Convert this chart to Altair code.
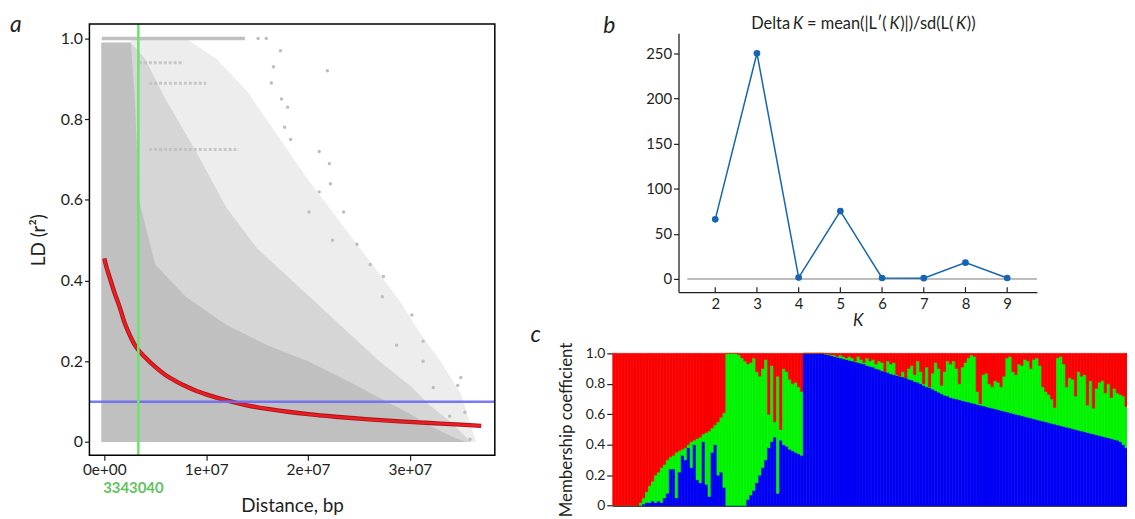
import altair as alt
import pandas as pd

# ---------------- panel a: LD decay ----------------
a_x_ticks = [0, 10_000_000, 20_000_000, 30_000_000]
a_x_tick_labels = ["0e+00", "1e+07", "2e+07", "3e+07"]
a_y_ticks = [0, 0.2, 0.4, 0.6, 0.8, 1.0]
a_y_tick_labels = ["0", "0.2", "0.4", "0.6", "0.8", "1.0"]
a_x_domain = [-1_462_000, 38_340_000]
a_y_domain = [-0.033, 1.036]
ld_threshold = 0.1
decay_distance = 3343040

curve_x = [0, 250e3, 500e3, 1e6, 1.5e6, 2e6, 2.5e6, 3e6, 3.34e6, 4e6, 5e6, 6e6, 7e6, 8e6,
           9e6, 10e6, 12e6, 14e6, 16e6, 18e6, 20e6, 23e6, 26e6, 29e6, 32e6, 35e6, 37e6]
curve_r2 = [0.455, 0.43, 0.41, 0.37, 0.335, 0.295, 0.265, 0.24, 0.228, 0.21, 0.186, 0.166,
            0.151, 0.138, 0.127, 0.118, 0.103, 0.091, 0.082, 0.075, 0.069, 0.062, 0.056,
            0.051, 0.047, 0.043, 0.040]

cloud_solid_x = [-0.3e6, 2.6e6, 3.0e6, 3.4e6, 5e6, 8e6, 12e6, 16e6, 20e6, 24e6, 27e6, 30e6,
                 32e6, 34e6, 35.5e6]
cloud_solid_r2 = [0.99, 0.99, 0.85, 0.60, 0.44, 0.36, 0.29, 0.24, 0.20, 0.15, 0.11, 0.07,
                  0.04, 0.015, 0.0]
cloud_mid_x = [2.6e6, 4e6, 6e6, 9e6, 12e6, 15e6, 18e6, 21e6, 24e6, 27e6, 30e6, 32e6, 34e6, 36e6]
cloud_mid_r2 = [0.99, 0.95, 0.85, 0.72, 0.58, 0.48, 0.41, 0.34, 0.27, 0.20, 0.14, 0.09, 0.05, 0.0]
cloud_outer_x = [2.6e6, 8e6, 11e6, 14e6, 17e6, 20e6, 23e6, 26e6, 29e6, 31e6, 33e6, 35e6, 36.5e6]
cloud_outer_r2 = [1.0, 1.0, 0.95, 0.87, 0.76, 0.65, 0.55, 0.45, 0.35, 0.27, 0.20, 0.12, 0.0]

streak_r2 = [0.94, 0.889, 0.725]
streak_from = [3.4e6, 4.4e6, 4.4e6]
streak_to = [7.8e6, 10e6, 13.2e6]
top_row_r2 = 1.0
top_row_from, top_row_to = -0.25e6, 13.8e6

outlier_x = [15.1e6, 15.9e6, 16.6e6, 16.4e6, 17.3e6, 17.4e6, 18.0e6, 17.7e6, 18.3e6, 20.1e6,
             21.1e6, 22.1e6, 22.2e6, 21.1e6, 23.5e6, 24.8e6, 22.4e6, 21.9e6, 30.2e6, 27.4e6,
             26.1e6, 27.3e6, 35.0e6, 34.7e6, 35.4e6, 33.9e6, 35.9e6, 32.3e6, 31.3e6, 28.7e6,
             31.3e6]
outlier_r2 = [1.0, 1.0, 0.93, 0.89, 0.97, 0.85, 0.83, 0.78, 0.75, 0.57,
              0.72, 0.69, 0.64, 0.62, 0.57, 0.49, 0.50, 0.92, 0.315, 0.41,
              0.44, 0.36, 0.16, 0.14, 0.074, 0.064, 0.007, 0.135, 0.20, 0.24,
              0.25]

# ---------------- panel b: Delta K ----------------
k_values = [2, 3, 4, 5, 6, 7, 8, 9]
delta_k = [66, 250, 1.5, 75, 1, 0.8, 18, 1]
b_y_ticks = [0, 50, 100, 150, 200, 250]
b_x_domain = [1.119, 9.714]
b_y_domain = [-14.6, 272]
b_zero_from = 1.33
b_title_parts = ["Delta", "K", "= mean(|L\u2032(", "K", ")|)/sd(L(", "K", "))"]
b_title_italic = [False, True, False, True, False, True, False]

# ---------------- panel c: STRUCTURE membership ----------------
c_y_ticks = [0, 0.2, 0.4, 0.6, 0.8, 1.0]
c_y_tick_labels = ["0", "0.2", "0.4", "0.6", "0.8", "1.0"]
q_red = ([1, 1, 1, 1, 1, 1, 1, 1, 1,
          .98, .95, .91, .87, .84, .80, .78, .75, .73, .70, .68, .67, .65, .64, .63, .62, .60,
          .58, .57, .56, .55, .53, .52, .51, .49, .47, .45, .42, .39]
         + [0, 0, 0, 0, .01, .03, .05, .07, .06, .03, .12, .15, .10, .04, .40, .08, .45, .15,
            .50, .10, .12, .17, .20, .19, .22, .25]
         + [0, 0, 0, 0, 0, 0, 0, 0,
            .005, .01, .01, .02, .01, .02, .03, .02, .03, .05,
            .02, .04, .06, .03, .05, .04, .07, .05, .06, .16,
            .05, .07, .06, .14, .17, .12, .18, .10, .08, .14,
            .05, .12, .20, .09, .22, .13, .06, .10, .21, .12,
            .05, .07,
            .05, .10, .20, .09, .06, .03, .01, .02, .25, .33,
            .14, .13, .20, .22, .18, .19, .22, .15, .03, .02,
            .12, .14, .07, .08, .04, .05, .10, .04, .03, .08,
            .22, .25, .27, .30, .355, .03, .02, .07, .22, .16,
            .17, .28, .12, .15, .14, .34, .18, .36, .23, .19,
            .18, .26, .20, .29, .23, .26, .27, .28, .35, .18,
            .20])
q_blue = ([0] * 9
          + [0, .01, .02, .02, .03, .02, .03, .02, .05, .08, .24, .24, .05, .22, .33, .30, .38,
             .25, .40, .17, .15, .42, .14, .06, .35, .40, .20, .22, .12]
          + [0, 0, 0, 0, 0, 0, 0, .04, .07, .10, .15, .20, .25, .30, .38, .42, .45, .08, .43,
             .40, .39, .37, .36, .35, .34, .33]
          + [1, 1, 1, 1, 1, 1, 1, .995, .99, .985, .98, .975, .97, .965, .96, .955, .95, .945,
             .94, .935, .93, .92, .915, .91, .90, .895, .885, .88, .875, .865, .86, .855, .85,
             .845, .84, .83, .825, .815, .81, .80, .79, .78, .775, .765, .755, .745, .735, .725,
             .72, .71,
             .705, .70, .695, .69, .685, .68, .675, .67, .665, .66, .655, .65, .645, .64, .635,
             .63, .625, .62, .615, .61, .605, .60, .595, .59, .585, .58, .575, .57, .565, .56,
             .555, .55, .545, .54, .535, .53, .525, .52, .515, .51, .505, .50, .495, .49, .485,
             .48, .475, .47, .465, .46, .455, .45, .445, .44, .435, .43, .42, .40, .38, .35,
             .33])

# ---------------- layout / style ----------------
W, H = 1127, 511
FONT = "Lato"
INK = "#231f20"
A_XR, A_YR = [82, 490.3], [448.7, 14.3]
B_XR, B_YR = [675.3, 1036.3], [284.3, 23.7]
C_XR, C_YR = [609, 609 + 3 * len(q_red)], [499.3, 346]
B_TITLE_SIZE = 16.5
B_TITLE_EM = [2.55, 0.64, 5.25, 0.66, 3.4, 0.66, 0.60]   # advance of each part
B_TITLE_LEAD = [0, 0, 0.22, 0, 0, 0, 0]                   # leading blank of each part
B_TITLE_CENTER, B_TITLE_BASE = 862, 19.5


def label_expr(values, labels):
    expr = "''"
    for v, l in reversed(list(zip(values, labels))):
        expr = f"abs(datum.value - ({v})) < {1e-6 * (1 + abs(v))} ? '{l}' : {expr}"
    return expr


one = pd.DataFrame({"k": [0]})


def text_at(txt, x, y, size, italic=False, bold=False, color=INK, align="center"):
    kw = dict(font=FONT, fontSize=size, color=color, align=align, baseline="alphabetic")
    if italic:
        kw["fontStyle"] = "italic"
    if bold:
        kw["fontWeight"] = "bold"
    return alt.Chart(one).mark_text(**kw).encode(
        x=alt.value(x), y=alt.value(y), text=alt.value(txt))


def axis_style(**kw):
    base = dict(grid=False, labelFont=FONT, labelColor=INK, titleFont=FONT,
                titleFontWeight="normal", titleColor=INK, tickColor=INK, tickWidth=1.2,
                labelFlush=False)
    base.update(kw)
    return alt.Axis(**base)


# ---------------- panel a ----------------
ax = alt.Scale(domain=a_x_domain, range=A_XR, nice=False, zero=False)
ay = alt.Scale(domain=a_y_domain, range=A_YR, nice=False, zero=False)
a_xaxis = axis_style(orient="bottom", offset=-(H - A_YR[0]), values=a_x_ticks,
                     labelExpr=label_expr(a_x_ticks, a_x_tick_labels), domain=False,
                     tickSize=5, labelFontSize=15.5, labelPadding=2, title="Distance, bp",
                     titleFontSize=19, titlePadding=19)
a_yaxis = axis_style(orient="left", offset=-A_XR[0], values=a_y_ticks,
                     labelExpr=label_expr(a_y_ticks, a_y_tick_labels), domain=False,
                     tickSize=5, labelFontSize=16, labelPadding=2, title="LD (r\u00b2)",
                     titleFontSize=19, titlePadding=12)


def AX(f):
    return alt.X(f, scale=ax, axis=a_xaxis)


def AY(f):
    return alt.Y(f, scale=ay, axis=a_yaxis)


def AXd(v):
    return alt.XDatum(v, scale=ax, axis=a_xaxis)


def AYd(v):
    return alt.YDatum(v, scale=ay, axis=a_yaxis)


GRAY = "#c0c0c0"
outer = alt.Chart(pd.DataFrame({"d": cloud_outer_x, "r2": cloud_outer_r2})).mark_area(
    color=GRAY, opacity=0.28).encode(x=AX("d:Q"), y=AY("r2:Q"), y2=alt.Y2Datum(0))
mid = alt.Chart(pd.DataFrame({"d": cloud_mid_x, "r2": cloud_mid_r2})).mark_area(
    color=GRAY, opacity=0.5).encode(x=AX("d:Q"), y=AY("r2:Q"), y2=alt.Y2Datum(0))
solid = alt.Chart(pd.DataFrame({"d": cloud_solid_x, "r2": cloud_solid_r2})).mark_area(
    color=GRAY, opacity=1).encode(x=AX("d:Q"), y=AY("r2:Q"), y2=alt.Y2Datum(0))
pts = alt.Chart(pd.DataFrame({"d": outlier_x, "r2": outlier_r2})).mark_circle(
    color="#bdbdbd", size=12, opacity=1).encode(x=AX("d:Q"), y=AY("r2:Q"))
streaks = alt.Chart(pd.DataFrame({"r2": streak_r2, "d0": streak_from, "d1": streak_to})).mark_rule(
    color=GRAY, strokeWidth=3, strokeDash=[3, 2], opacity=0.85).encode(
    x=AX("d0:Q"), x2="d1:Q", y=AY("r2:Q"))
top_row = alt.Chart(one).mark_rule(color=GRAY, strokeWidth=3.5).encode(
    x=AXd(top_row_from), x2=alt.X2Datum(top_row_to), y=AYd(top_row_r2))
curve_df = pd.DataFrame({"d": curve_x, "r2": curve_r2})
curve_edge = alt.Chart(curve_df).mark_line(
    color="#a3151a", strokeWidth=4.4, interpolate="monotone").encode(x=AX("d:Q"), y=AY("r2:Q"))
curve = alt.Chart(curve_df).mark_line(
    color="#ee1c22", strokeWidth=2.6, interpolate="monotone").encode(x=AX("d:Q"), y=AY("r2:Q"))
hline = alt.Chart(one).mark_rule(color="#6b6bf3", strokeWidth=2.5, opacity=0.9).encode(
    x=AXd(a_x_domain[0]), x2=alt.X2Datum(a_x_domain[1]), y=AYd(ld_threshold))
vline = alt.Chart(one).mark_rule(color="#6ae46a", strokeWidth=2.5).encode(
    x=AXd(decay_distance), y=AYd(a_y_domain[0]), y2=alt.Y2Datum(a_y_domain[1]))
frame = alt.Chart(one).mark_rect(filled=False, stroke="black", strokeWidth=1.5).encode(
    x=AXd(a_x_domain[0]), x2=alt.X2Datum(a_x_domain[1]),
    y=AYd(a_y_domain[0]), y2=alt.Y2Datum(a_y_domain[1]))
vlabel = alt.Chart(one).mark_text(font=FONT, fontSize=15, fontWeight="bold", color="#5fc35f",
                                  dx=-5, baseline="middle").encode(
    x=AXd(decay_distance), y=alt.value(482), text=alt.value(str(decay_distance)))
panel_a = alt.layer(outer, mid, solid, top_row, streaks, pts, curve_edge, curve, hline, vline,
                    frame, vlabel, text_at("a", 8, 22, 23, italic=True))

# ---------------- panel b ----------------
bx = alt.Scale(domain=b_x_domain, range=B_XR, nice=False, zero=False)
by = alt.Scale(domain=b_y_domain, range=B_YR, nice=False, zero=False)
b_xaxis = axis_style(orient="bottom", offset=-(H - B_YR[0]), values=k_values, format="d",
                     ticks=False, domain=True, domainColor=INK, domainWidth=1.3,
                     labelFontSize=15, labelPadding=5, title="K", titleFontSize=17,
                     titleFontStyle="italic", titlePadding=1)
b_yaxis = axis_style(orient="left", offset=-B_XR[0], values=b_y_ticks, format="d",
                     domain=True, domainColor=INK, domainWidth=1.3, tickSize=5,
                     labelFontSize=15, labelPadding=2, title="")


def BX(f):
    return alt.X(f, scale=bx, axis=b_xaxis)


def BY(f):
    return alt.Y(f, scale=by, axis=b_yaxis)


bdf = pd.DataFrame({"K": k_values, "dk": delta_k})
BLUE = "#1565b2"
zero_line = alt.Chart(one).mark_rule(color="#bdbdbd", strokeWidth=2).encode(
    x=alt.XDatum(b_zero_from, scale=bx, axis=b_xaxis), x2=alt.X2Datum(b_x_domain[1]),
    y=alt.YDatum(0, scale=by, axis=b_yaxis))
b_line = alt.Chart(bdf).mark_line(color=BLUE, strokeWidth=1.5).encode(x=BX("K:Q"), y=BY("dk:Q"))
b_pts = alt.Chart(bdf).mark_circle(color=BLUE, size=45, opacity=1).encode(
    x=BX("K:Q"), y=BY("dk:Q"))
tick_len = 5 * (b_y_domain[1] - b_y_domain[0]) / (B_YR[0] - B_YR[1])
b_ticks = alt.Chart(bdf).mark_rule(color=INK, strokeWidth=1.2).encode(
    x=BX("K:Q"), y=alt.YDatum(b_y_domain[0], scale=by, axis=b_yaxis),
    y2=alt.Y2Datum(b_y_domain[0] + tick_len))
b_title = []
pos = B_TITLE_CENTER - sum(B_TITLE_EM) * B_TITLE_SIZE / 2
for t, it, em, lead in zip(b_title_parts, b_title_italic, B_TITLE_EM, B_TITLE_LEAD):
    b_title.append(text_at(t, pos + lead * B_TITLE_SIZE, B_TITLE_BASE, B_TITLE_SIZE,
                           italic=it, align="left"))
    pos += em * B_TITLE_SIZE
panel_b = alt.layer(zero_line, b_line, b_pts, b_ticks, *b_title,
                    text_at("b", 605.5, 23, 23, italic=True))

# ---------------- panel c ----------------
rows = []
for i, (r, b) in enumerate(zip(q_red, q_blue)):
    g = max(0.0, 1 - r - b)
    cum = 0.0
    for name, v in (("blue", b), ("green", g), ("red", r)):
        rows.append({"i0": i, "i1": i + 1, "q0": cum, "q1": min(1.0, cum + v), "cluster": name})
        cum += v
cdf = pd.DataFrame(rows)
cx = alt.Scale(domain=[0, len(q_red)], range=C_XR, nice=False, zero=False)
cy = alt.Scale(domain=[0, 1], range=C_YR, nice=False, zero=False)
c_xaxis = axis_style(orient="bottom", offset=-(H - C_YR[0]), labels=False, ticks=False,
                     domain=True, domainColor="black", domainWidth=1.5, title="")
c_yaxis = axis_style(orient="left", offset=-C_XR[0], values=c_y_ticks,
                     labelExpr=label_expr(c_y_ticks, c_y_tick_labels), domain=False,
                     tickSize=6, labelFontSize=14, labelPadding=2,
                     title="Membership coefficient", titleFontSize=17, titlePadding=10)
c_colors = alt.Scale(domain=["blue", "green", "red"], range=["#0000f4", "#00f400", "#fa0000"])
bars = alt.Chart(cdf).mark_rect(strokeWidth=0.6).encode(
    x=alt.X("i0:Q", scale=cx, axis=c_xaxis), x2="i1:Q",
    y=alt.Y("q0:Q", scale=cy, axis=c_yaxis), y2="q1:Q",
    color=alt.Color("cluster:N", legend=None, scale=c_colors),
    stroke=alt.Stroke("cluster:N", legend=None, scale=c_colors))
panel_c = alt.layer(bars, text_at("c", 531.5, 335, 23, italic=True))

chart = alt.layer(panel_a, panel_b, panel_c).resolve_scale(
    x="independent", y="independent", color="independent", stroke="independent"
).properties(
    width=W, height=H, padding=0, autosize=alt.AutoSizeParams(type="none")
).configure_view(strokeWidth=0)

chart.save("out.html", embed_options={"renderer": "svg", "actions": False})
